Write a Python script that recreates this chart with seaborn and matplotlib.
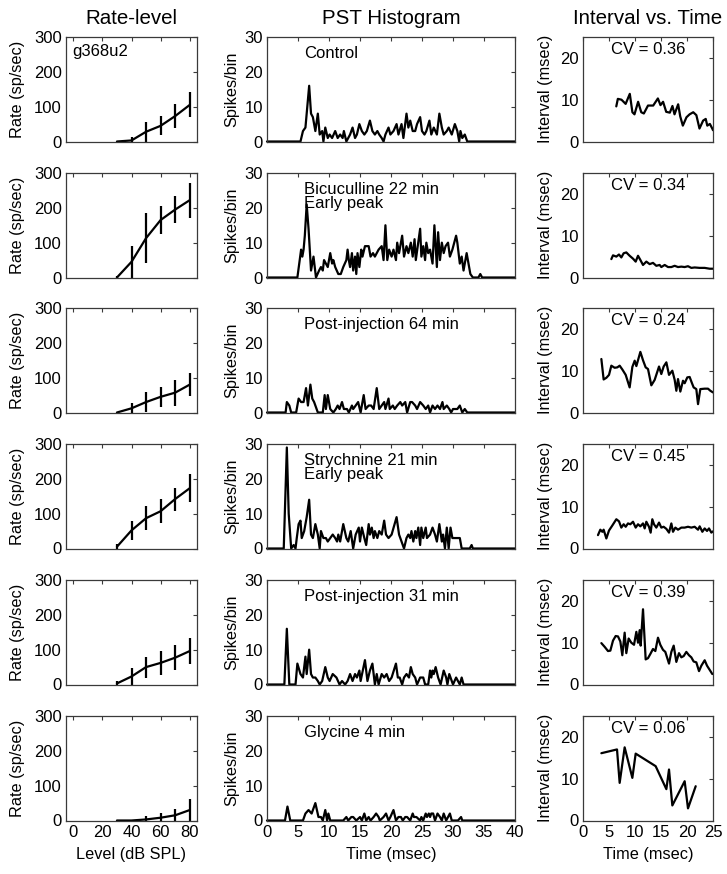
import numpy as np
import pandas as pd
import matplotlib
matplotlib.use("Agg")
import matplotlib.pyplot as plt
import seaborn as sns

# ---------------- data ----------------
unit_label = "g368u2"
conditions = ["Control", "Bicuculline 22 min\nEarly peak", "Post-injection 64 min",
              "Strychnine 21 min\nEarly peak", "Post-injection 31 min", "Glycine 4 min"]
cv_labels = ["CV = 0.36", "CV = 0.34", "CV = 0.24", "CV = 0.45", "CV = 0.39", "CV = 0.06"]

rl_levels = [30, 40, 50, 60, 70, 80]
rl_mean_1 = [0, 3, 28, 45, 73, 105]
rl_err_1 = [0, 11, 28, 27, 34, 36]
rl_mean_2 = [0, 45, 113, 165, 195, 222]
rl_err_2 = [3, 45, 72, 40, 38, 50]
rl_mean_3 = [0, 12, 30, 45, 57, 80]
rl_err_3 = [0, 15, 28, 28, 37, 34]
rl_mean_4 = [5, 52, 87, 107, 142, 173]
rl_err_4 = [7, 28, 34, 34, 33, 40]
rl_mean_5 = [3, 23, 50, 62, 77, 96]
rl_err_5 = [7, 25, 30, 34, 35, 38]
rl_mean_6 = [0, 0, 3, 8, 15, 30]
rl_err_6 = [0, 0, 9, 13, 17, 32]

pst_t_1 = [0, 5.4, 5.8, 6.2, 6.8, 7.1, 7.4, 7.8, 8.2, 8.5, 8.9, 9.1, 9.4, 9.8, 10.1, 10.5, 11.0, 11.4,
           11.8, 12.2, 12.4, 12.8, 13.1, 13.4, 13.8, 14.2, 14.5, 14.9, 15.3, 15.7, 16.1, 16.6, 17.0,
           17.4, 17.8, 18.1, 18.5, 18.8, 19.1, 19.6, 19.9, 20.4, 20.9, 21.2, 21.7, 22.0, 22.5, 22.8,
           23.1, 23.5, 23.9, 24.2, 24.7, 25.0, 25.4, 25.7, 26.2, 26.5, 26.9, 27.4, 27.8, 28.2, 28.5,
           29.0, 29.3, 29.8, 30.3, 30.7, 31.0, 31.2, 31.5, 31.9, 32.3, 40]
pst_n_1 = [0, 0, 3, 4, 16, 8, 7, 3, 8, 2, 3, 0, 4, 1, 2, 1, 3, 1,
           2, 1, 3, 0, 1, 2, 4, 1, 2, 5, 3, 2, 3, 6, 3,
           2, 3, 2, 1, 0, 2, 4, 2, 3, 5, 2, 5, 1, 8, 4,
           6, 3, 3, 5, 7, 3, 2, 3, 6, 2, 4, 2, 8, 4, 2,
           3, 4, 2, 5, 3, 0, 3, 1, 2, 0, 0]

pst_t_2 = [0, 4.9, 5.5, 5.7, 5.9, 6.1, 6.4, 6.7, 6.9, 7.1, 7.5, 7.9, 8.4, 8.7, 9.0, 9.2, 9.5, 9.8,
           10.2, 10.5, 10.7, 11.0, 11.5, 11.9, 12.3, 12.8, 13.0, 13.2, 13.4, 13.7, 13.9, 14.2, 14.4,
           14.6, 14.9, 15.2, 15.4, 15.8, 16.4, 16.7, 17.1, 17.4, 18.0, 18.5, 18.8, 19.1, 19.4, 19.7,
           20.1, 20.4, 20.8, 21.0, 21.3, 21.8, 22.1, 22.5, 22.8, 23.2, 23.5, 23.8, 24.0, 24.7, 24.9,
           25.2, 25.5, 25.7, 26.0, 26.3, 26.7, 27.0, 27.4, 27.6, 27.9, 28.2, 28.5, 28.8, 29.2, 29.5,
           29.9, 30.5, 30.7, 31.1, 31.4, 31.7, 32.2, 32.4, 32.8, 33.2, 34.1, 34.4, 34.7, 40]
pst_n_2 = [0, 0, 8, 6, 8, 12, 21, 14, 8, 2, 6, 0, 2, 3, 2, 5, 4, 3,
           7, 4, 5, 3, 1, 1, 3, 5, 8, 5, 3, 7, 2, 6, 1,
           7, 3, 8, 6, 9, 9, 6, 7, 6, 8, 9, 5, 15, 5, 8,
           6, 8, 5, 10, 7, 12, 6, 9, 7, 10, 6, 11, 5, 14, 6,
           9, 5, 10, 7, 8, 4, 15, 3, 13, 5, 10, 7, 9, 10, 6,
           8, 12, 10, 4, 6, 2, 7, 5, 1, 0, 0, 1, 0, 0]

pst_t_3 = [0, 3.0, 3.2, 3.6, 3.9, 4.7, 5.1, 5.5, 5.9, 6.3, 6.6, 7.0, 7.3, 7.6, 8.2, 9.0, 9.3, 9.5,
           9.8, 10.2, 10.7, 11.1, 11.4, 11.7, 12.1, 12.4, 12.9, 13.2, 13.7, 13.9, 14.7, 15.1, 15.6,
           15.9, 16.4, 16.8, 17.2, 17.7, 18.1, 18.5, 18.9, 19.1, 19.6, 19.8, 20.3, 20.6, 21.0, 21.5,
           21.8, 22.3, 22.6, 23.1, 23.4, 23.9, 24.2, 24.7, 25.2, 25.6, 26.0, 26.3, 26.7, 27.1, 27.5,
           27.9, 28.3, 28.5, 29.0, 29.4, 29.7, 30.0, 30.7, 31.1, 31.5, 31.9, 32.3, 40]
pst_n_3 = [0, 0, 3, 2, 0, 0, 4, 3, 3, 7, 2, 8, 4, 3, 0, 0, 5, 1,
           5, 1, 0, 1, 2, 1, 3, 1, 1, 0, 2, 1, 3, 0, 5,
           1, 2, 2, 1, 7, 1, 2, 3, 1, 4, 1, 2, 1, 2, 3,
           2, 3, 0, 3, 3, 2, 1, 3, 2, 1, 2, 0, 2, 1, 2,
           1, 3, 1, 2, 1, 0, 1, 1, 2, 0, 1, 0, 0]

pst_t_4 = [0, 2.7, 3.2, 3.5, 3.9, 4.3, 4.6, 4.8, 5.1, 5.4, 5.6, 6.0, 6.4, 6.8, 7.1, 7.4, 7.8, 8.2,
           8.5, 8.7, 9.1, 9.5, 9.8, 10.2, 10.6, 11.0, 11.3, 11.5, 11.8, 12.3, 12.8, 13.1, 13.5, 13.9,
           14.3, 14.8, 15.0, 15.3, 15.7, 16.0, 16.4, 16.6, 16.9, 17.2, 17.4, 17.8, 18.1, 18.5, 18.9,
           19.2, 19.6, 20.1, 20.9, 21.3, 21.7, 22.1, 22.5, 22.8, 23.1, 23.3, 23.6, 23.9, 24.1, 24.4,
           24.7, 24.9, 25.2, 25.6, 25.8, 26.3, 26.7, 27.1, 27.4, 27.8, 28.2, 28.4, 28.7, 29.0, 29.3,
           29.6, 29.9, 30.6, 31.1, 31.4, 32.7, 33.0, 33.2, 40]
pst_n_4 = [0, 0, 29, 10, 0, 1, 0, 3, 7, 8, 3, 5, 9, 14, 4, 3, 7, 4,
           0, 5, 3, 3, 2, 3, 4, 3, 2, 4, 2, 7, 3, 2, 5, 0,
           4, 6, 2, 6, 3, 1, 7, 4, 6, 3, 5, 3, 5, 4, 8,
           4, 3, 4, 9, 4, 2, 0, 3, 4, 3, 5, 2, 5, 3, 6,
           1, 6, 3, 6, 3, 4, 6, 4, 2, 7, 2, 4, 0, 6, 0,
           6, 3, 3, 3, 0, 0, 1, 0, 0]

pst_t_5 = [0, 2.8, 3.2, 3.6, 4.6, 4.9, 5.4, 5.8, 6.2, 6.4, 6.8, 7.1, 7.4, 7.8, 8.2, 8.5, 8.9, 9.4,
           9.8, 10.1, 10.6, 11.2, 11.7, 12.1, 12.6, 13.0, 13.4, 13.8, 14.2, 14.5, 14.9, 15.1, 15.8,
           16.2, 16.6, 17.0, 17.4, 17.7, 18.0, 18.5, 18.9, 19.3, 19.7, 20.1, 20.8, 21.1, 21.4, 21.8,
           22.1, 22.5, 22.9, 23.2, 23.5, 23.9, 24.2, 24.7, 25.2, 25.5, 26.0, 26.3, 26.5, 26.7, 26.9,
           27.2, 27.6, 28.0, 28.5, 28.9, 29.1, 29.4, 29.8, 30.0, 30.5, 30.8, 31.1, 31.4, 31.7, 40]
pst_n_5 = [0, 0, 16, 0, 0, 6, 3, 2, 8, 3, 10, 3, 2, 2, 1, 0, 1, 5,
           2, 1, 3, 2, 0, 1, 0, 1, 3, 1, 3, 2, 4, 1, 7,
           1, 4, 6, 0, 3, 0, 3, 2, 3, 1, 2, 6, 2, 2, 0,
           2, 3, 2, 5, 3, 2, 0, 2, 2, 0, 0, 4, 2, 4, 3,
           5, 2, 0, 4, 2, 0, 3, 1, 0, 2, 1, 0, 2, 0, 0]

pst_t_6 = [0, 2.9, 3.3, 3.75, 5.8, 6.2, 6.7, 7.2, 7.8, 8.3, 8.7, 9.0, 9.4, 9.7, 9.9, 10.2, 12.3,
           12.8, 13.1, 13.6, 13.9, 14.4, 15.0, 15.3, 15.7, 16.0, 16.4, 16.7, 17.2, 17.6, 18.0, 18.2,
           18.8, 19.2, 19.6, 19.9, 20.4, 20.8, 21.2, 21.6, 21.9, 22.3, 22.6, 23.1, 23.5, 23.7, 24.1,
           24.7, 24.9, 25.2, 25.6, 25.8, 26.1, 26.3, 26.5, 26.8, 27.1, 27.5, 27.9, 28.2, 28.5, 28.9,
           29.5, 29.8, 30.8, 31.3, 31.5, 40]
pst_n_6 = [0, 0, 4, 0, 0, 2, 3, 2, 5, 1, 1, 0, 3, 0, 2, 0, 0,
           1, 0, 1, 1, 0, 1, 0, 2, 0, 1, 0, 1, 2, 1, 0,
           1, 2, 0, 1, 3, 0, 1, 1, 0, 1, 1, 0, 2, 1, 1,
           0, 1, 0, 2, 1, 2, 1, 2, 2, 0, 2, 1, 0, 2, 0,
           2, 0, 0, 1, 0, 0]

isi_t_1 = [6.4, 6.7, 7.4, 8.2, 9.0, 9.5, 9.9, 10.6, 11.2, 11.7, 12.5, 13.5, 14.4, 14.9, 15.4, 16.0,
           16.7, 17.2, 17.6, 18.3, 18.7, 19.2, 19.9, 20.5, 21.2, 21.8, 22.4, 23.1, 23.6, 23.9, 24.4,
           24.9, 25.0]
isi_v_1 = [8.4, 10.2, 10.0, 9.0, 11.4, 7.0, 6.5, 9.5, 7.0, 6.7, 8.6, 8.6, 10.3, 8.7, 9.5, 7.1,
           6.9, 8.5, 6.5, 8.9, 6.0, 3.8, 5.8, 6.5, 7.0, 6.3, 3.1, 5.0, 5.4, 3.8, 4.2, 3.0, 2.7]

isi_t_2 = [5.45, 5.77, 6.41, 6.92, 7.37, 7.82, 8.33, 8.97, 9.62, 10.13, 10.58, 11.03, 11.54, 12.18,
           12.82, 13.46, 14.1, 14.74, 15.06, 15.71, 16.35, 16.99, 17.63, 18.27, 18.91, 19.55, 20.19,
           20.83, 21.47, 22.44, 23.4, 24.36, 25.0]
isi_v_2 = [4.4, 5.3, 5.0, 5.5, 4.8, 5.8, 6.0, 5.2, 4.5, 3.8, 5.2, 4.2, 3.0, 3.8, 3.2, 3.5, 2.8,
           3.0, 2.5, 3.0, 2.5, 2.5, 2.8, 2.5, 2.6, 2.5, 2.7, 2.3, 2.4, 2.3, 2.3, 2.1, 2.1]

isi_t_3 = [3.53, 3.97, 4.49, 5.0, 5.45, 6.09, 6.6, 7.05, 7.56, 8.21, 8.97, 9.49, 9.94, 10.26,
           11.03, 11.54, 12.05, 12.5, 13.14, 13.78, 14.62, 15.06, 15.51, 16.03, 16.54, 17.18,
           17.63, 17.95, 18.27, 18.72, 19.23, 19.55, 20.06, 20.51, 20.96, 21.28, 21.79, 22.12,
           22.56, 23.4, 24.04, 24.49, 25.0]
isi_v_3 = [12.8, 7.9, 8.3, 9.0, 11.2, 10.7, 10.8, 11.2, 10.3, 9.0, 6.0, 10.9, 12.4, 11.1,
           14.5, 12.5, 10.8, 10.4, 6.5, 7.8, 11.0, 9.2, 11.0, 12.0, 9.0, 10.0,
           7.8, 5.2, 8.0, 5.0, 7.6, 7.0, 8.4, 8.5, 7.0, 6.0, 5.6, 2.0,
           5.6, 5.7, 5.7, 5.2, 4.8]

isi_t_4 = [2.88, 3.33, 3.72, 3.97, 4.49, 5.0, 5.64, 6.41, 6.92, 7.37, 7.82, 8.21, 8.65, 9.1,
           9.62, 10.13, 10.58, 11.03, 11.54, 11.86, 12.18, 12.69, 13.01, 13.33, 13.65, 14.1, 14.62,
           15.06, 15.51, 16.03, 16.54, 16.99, 17.31, 17.76, 18.27, 18.91, 19.55, 20.19, 20.83,
           21.47, 22.12, 22.44, 22.95, 23.4, 23.85, 24.23, 24.68, 25.0]
isi_v_4 = [3.2, 4.5, 4.0, 4.5, 2.4, 4.3, 5.5, 7.0, 6.5, 5.0, 5.8, 5.2, 6.0, 5.8,
           6.4, 5.0, 5.8, 5.3, 6.0, 4.8, 6.4, 5.2, 3.8, 7.0, 5.8, 5.0, 6.2,
           5.0, 5.2, 4.7, 3.8, 6.0, 4.0, 5.0, 4.5, 5.0, 5.0, 5.2, 5.0,
           5.2, 4.5, 5.3, 4.0, 4.8, 4.2, 4.8, 3.8, 4.1]

isi_t_5 = [3.53, 4.17, 4.81, 5.26, 5.77, 6.28, 6.73, 7.18, 7.56, 8.01, 8.33, 8.78, 9.29, 9.81,
           10.26, 10.58, 10.9, 11.09, 11.54, 12.05, 12.5, 12.95, 13.46, 13.91, 14.42, 14.87,
           15.38, 15.83, 16.54, 16.99, 17.44, 17.95, 18.46, 18.91, 19.36, 19.87, 20.38, 20.83,
           21.28, 21.79, 22.31, 22.76, 23.4, 23.85, 24.36, 24.87]
isi_v_5 = [9.9, 9.0, 8.0, 8.1, 10.5, 11.6, 11.5, 10.3, 7.0, 12.4, 7.5, 11.0, 10.0, 9.5,
           12.6, 10.0, 13.0, 9.3, 18.0, 6.0, 6.3, 7.3, 8.5, 8.0, 11.2, 9.5,
           8.3, 7.8, 5.0, 7.8, 9.3, 5.4, 7.5, 6.5, 6.8, 7.8, 7.0, 6.5,
           5.5, 5.3, 3.2, 4.5, 5.8, 4.5, 3.5, 2.5]

isi_t_6 = [3.53, 6.54, 7.05, 8.01, 9.49, 10.13, 13.97, 16.03, 16.54, 17.18, 19.55, 20.19, 21.67]
isi_v_6 = [16.1, 17.0, 9.0, 17.5, 10.2, 16.0, 13.0, 7.5, 12.2, 3.6, 9.4, 2.9, 8.2]

rl_means = [rl_mean_1, rl_mean_2, rl_mean_3, rl_mean_4, rl_mean_5, rl_mean_6]
rl_errs = [rl_err_1, rl_err_2, rl_err_3, rl_err_4, rl_err_5, rl_err_6]
pst_ts = [pst_t_1, pst_t_2, pst_t_3, pst_t_4, pst_t_5, pst_t_6]
pst_ns = [pst_n_1, pst_n_2, pst_n_3, pst_n_4, pst_n_5, pst_n_6]
isi_ts = [isi_t_1, isi_t_2, isi_t_3, isi_t_4, isi_t_5, isi_t_6]
isi_vs = [isi_v_1, isi_v_2, isi_v_3, isi_v_4, isi_v_5, isi_v_6]

# ---------------- style ----------------
FS = 12
LFS = 11.7
TFS = 14.8
sns.set_theme(style="white")
plt.rcParams["font.family"] = ["Liberation Sans", "DejaVu Sans"]
plt.rcParams.update({
    "axes.edgecolor": "#3a3a3a",
    "axes.linewidth": 0.9,
    "xtick.direction": "in",
    "ytick.direction": "in",
    "xtick.major.size": 3,
    "ytick.major.size": 3,
    "xtick.major.width": 0.8,
    "ytick.major.width": 0.8,
    "xtick.color": "#3a3a3a",
    "ytick.color": "#3a3a3a",
    "xtick.labelcolor": "black",
    "ytick.labelcolor": "black",
    "xtick.labelsize": FS,
    "ytick.labelsize": FS,
    "axes.labelsize": LFS,
    "text.color": "black",
    "axes.labelcolor": "black",
})

W, H = 727, 874
fig = plt.figure(figsize=(W / 100, H / 100), dpi=100)
fig.patch.set_facecolor("white")

col_left = [66, 267, 583]
col_width = [131, 248, 130]
row_top = [37, 173, 308, 444, 580, 716]
row_h = 104.5

LW = 1.6


def make_ax(c, r):
    l = col_left[c] / W
    b = 1 - (row_top[r] + row_h) / H
    ax = fig.add_axes([l, b, col_width[c] / W, row_h / H])
    ax.tick_params(top=True, right=True, pad=3)
    return ax


for r in range(6):
    last = r == 5
    # ---- rate-level ----
    ax = make_ax(0, r)
    df = pd.DataFrame({"level": rl_levels, "rate": rl_means[r]})
    sns.lineplot(data=df, x="level", y="rate", ax=ax, color="black", lw=LW)
    ax.errorbar(rl_levels, rl_means[r], yerr=rl_errs[r], fmt="none", ecolor="black",
                elinewidth=LW, capsize=0)
    ax.set_xlim(-5, 85)
    ax.set_ylim(0, 300)
    ax.set_xticks([0, 20, 40, 60, 80])
    ax.set_yticks([0, 100, 200, 300])
    ax.set_ylabel("Rate (sp/sec)")
    ax.yaxis.set_label_coords(-0.31, 0.5)
    if last:
        ax.set_xlabel("Level (dB SPL)", labelpad=5)
    else:
        ax.set_xlabel("")
        ax.tick_params(labelbottom=False)
    if r == 0:
        ax.set_title("Rate-level", fontsize=TFS, pad=9)
        ax.text(0.05, 0.86, unit_label, transform=ax.transAxes, ha="left", va="center",
                fontsize=FS)

    # ---- PST ----
    ax = make_ax(1, r)
    df = pd.DataFrame({"t": pst_ts[r], "n": pst_ns[r]})
    sns.lineplot(data=df, x="t", y="n", ax=ax, color="black", lw=LW, clip_on=False)
    ax.set_xlim(0, 40)
    ax.set_ylim(0, 30)
    ax.set_xticks(range(0, 41, 5))
    ax.set_yticks([0, 10, 20, 30])
    ax.set_ylabel("Spikes/bin")
    ax.yaxis.set_label_coords(-0.113, 0.5)
    ax.text(0.15, 0.915, conditions[r], transform=ax.transAxes, ha="left", va="top",
            fontsize=FS, linespacing=0.93)
    if last:
        ax.set_xlabel("Time (msec)", labelpad=5)
    else:
        ax.set_xlabel("")
        ax.tick_params(labelbottom=False)
    if r == 0:
        ax.set_title("PST Histogram", fontsize=TFS, pad=9)

    # ---- interval vs time ----
    ax = make_ax(2, r)
    df = pd.DataFrame({"t": isi_ts[r], "v": isi_vs[r]})
    sns.lineplot(data=df, x="t", y="v", ax=ax, color="black", lw=LW, sort=False)
    ax.set_xlim(0, 25)
    ax.set_ylim(0, 25)
    ax.set_xticks(range(0, 26, 5))
    ax.set_yticks([0, 10, 20])
    ax.set_ylabel("Interval (msec)")
    ax.yaxis.set_label_coords(-0.232, 0.5)
    ax.text(0.5, 0.885, cv_labels[r], transform=ax.transAxes, ha="center", va="center",
            fontsize=FS)
    if last:
        ax.set_xlabel("Time (msec)", labelpad=5)
    else:
        ax.set_xlabel("")
        ax.tick_params(labelbottom=False)
    if r == 0:
        ax.set_title("Interval vs. Time", fontsize=TFS, pad=9)

fig.savefig("out.png", dpi=100, facecolor="white")
